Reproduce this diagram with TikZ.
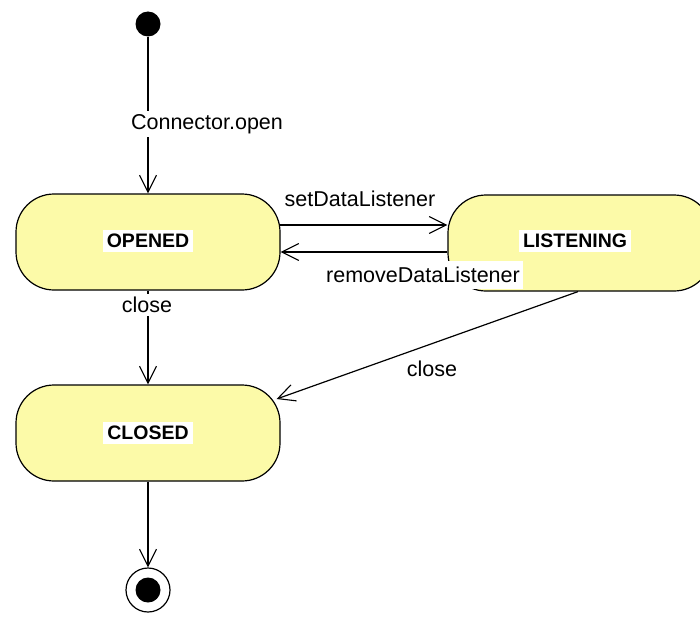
\documentclass[tikz,border=0pt]{standalone}
\usepackage{fontspec}
\setmainfont{Liberation Sans}
\usetikzlibrary{arrows.meta,calc}
\definecolor{statefill}{RGB}{252,250,168}
\begin{document}
\begin{tikzpicture}[x=1pt,y=-1pt,
  statebox/.style={draw, line width=1.2pt, fill=statefill, rounded corners=38pt,
    minimum width=264pt, minimum height=96pt, inner sep=0pt},
  statetext/.style={fill=white, inner sep=4pt, font=\fontsize{19.5}{22}\selectfont\bfseries},
  lbl/.style={fill=white, inner sep=3pt, font=\fontsize{21.5}{24}\selectfont},
  trans/.style={line width=1.2pt, -{Straight Barb[length=17pt,width=17pt,line width=1.1pt]}}]
\useasboundingbox (0,0) rectangle (700,618);
\clip (0,0) rectangle (700,618);
\fill[white] (0,0) rectangle (700,618);
% states
\node[circle, fill=black, minimum size=25pt, inner sep=0pt] (init) at (148,24) {};
\node[statebox] (opened) at (148,242) {};
\node[statebox] (listening) at (580,243) {};
\node[statebox] (closed) at (148,433) {};
\node[circle, draw, line width=1.2pt, fill=white, minimum size=44pt, inner sep=0pt] (final) at (148,590) {};
\node[circle, fill=black, minimum size=25pt, inner sep=0pt] (finaldot) at (final) {};
% transitions
\draw[trans] (init) -- (opened.north);
\draw[trans] ($(opened.east)+(-1,-17)$) -- ($(listening.west)+(0,-18)$);
\draw[trans] ($(listening.west)+(0,9)$) -- ($(opened.east)+(0,10)$);
\draw[trans] (opened.south) -- (closed.north);
\draw[trans] ($(listening.south)+(-2,0)$) -- ($(closed.east)+(-4,-34)$);
\draw[trans] (closed.south) -- (final.north);
% state texts
\node[statetext] (openedtext) at (148,241) {OPENED};
\node[statetext] (listeningtext) at (575,241) {LISTENING};
\node[statetext] (closedtext) at (148,433) {CLOSED};
% labels
\node[lbl] (lopen) at (207,124) {Connector.open};
\node[lbl] (lset) at (360,199) {setDataListener};
\node[lbl, inner ysep=6pt] (lremove) at (423,275) {removeDataListener};
\node[lbl] (lclose1) at (147,305) {close};
\node[lbl] (lclose2) at (432,369) {close};
\end{tikzpicture}
\end{document}
